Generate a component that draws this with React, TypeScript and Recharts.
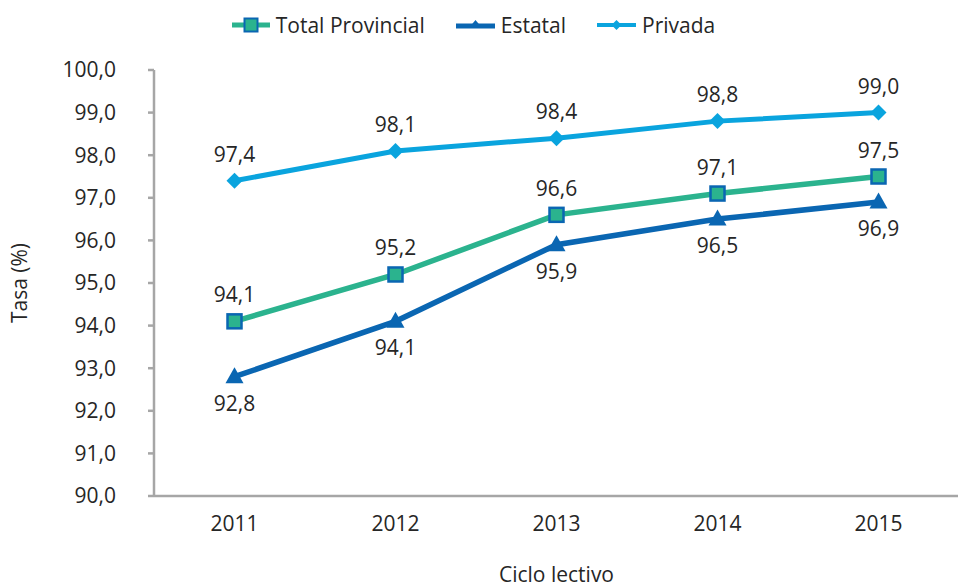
import React from 'react';
import { LineChart, Line, XAxis, YAxis, Legend, LabelList } from 'recharts';

const categories = ['2011', '2012', '2013', '2014', '2015'];
const totalProvincial = [94.1, 95.2, 96.6, 97.1, 97.5];
const estatal = [92.8, 94.1, 95.9, 96.5, 96.9];
const privada = [97.4, 98.1, 98.4, 98.8, 99.0];
const yTicks = [90, 91, 92, 93, 94, 95, 96, 97, 98, 99, 100];
const frameTicks = [0, 1, 2, 3, 4, 5];
const seriesOrder = ['total', 'estatal', 'privada'];
const seriesNames = { total: 'Total Provincial', estatal: 'Estatal', privada: 'Privada' };

const data = categories.map((year, i) => ({
  year,
  total: totalProvincial[i],
  estatal: estatal[i],
  privada: privada[i],
}));

const FONT = '"Open Sans", "Noto Sans", sans-serif';
const TEXT = '#262626';
const AXIS = '#a6a6a6';
const GREEN = '#2bb38e';
const DARK = '#0a66b2';
const LIGHT = '#0aa4de';
const FS = 21;

const fmt = (v: number) => v.toFixed(1).replace('.', ',');

const SquareDot = (props: any) => {
  const { cx, cy, index } = props;
  if (cx == null || cy == null) return null;
  return <rect key={`sq-${index}`} x={cx - 7} y={cy - 7} width={14} height={14} fill={GREEN} stroke={DARK} strokeWidth={2.5} />;
};
const TriangleDot = (props: any) => {
  const { cx, cy, index } = props;
  if (cx == null || cy == null) return null;
  return <polygon key={`tr-${index}`} points={`${cx},${cy - 9.5} ${cx - 9},${cy + 6.5} ${cx + 9},${cy + 6.5}`} fill={DARK} />;
};
const DiamondDot = (props: any) => {
  const { cx, cy, index } = props;
  if (cx == null || cy == null) return null;
  return <polygon key={`di-${index}`} points={`${cx},${cy - 8} ${cx + 8},${cy} ${cx},${cy + 8} ${cx - 8},${cy}`} fill={LIGHT} />;
};

const LegendIcon = ({ dataKey }: { dataKey: string }) => {
  if (dataKey === 'total') {
    return (
      <svg width={38} height={16} style={{ display: 'block' }}>
        <line x1={0} y1={8} x2={38} y2={8} stroke={GREEN} strokeWidth={5} />
        <rect x={12.5} y={1.5} width={13} height={13} fill={GREEN} stroke={DARK} strokeWidth={2} />
      </svg>
    );
  }
  if (dataKey === 'estatal') {
    return (
      <svg width={39} height={16} style={{ display: 'block' }}>
        <line x1={0} y1={9} x2={39} y2={9} stroke={DARK} strokeWidth={5} />
        <polygon points="19.5,3 14.5,9 24.5,9" fill={DARK} />
      </svg>
    );
  }
  return (
    <svg width={39} height={16} style={{ display: 'block' }}>
      <line x1={0} y1={8} x2={39} y2={8} stroke={LIGHT} strokeWidth={4} />
      <polygon points="19.5,3 24.5,8 19.5,13 14.5,8" fill={LIGHT} />
    </svg>
  );
};

const renderLegend = (props: any) => {
  const payload = [...(props.payload || [])].sort(
    (a: any, b: any) => seriesOrder.indexOf(a.dataKey) - seriesOrder.indexOf(b.dataKey)
  );
  return (
    <div style={{ height: 65, width: '100%' }}>
      <div style={{ height: 40, display: 'flex', justifyContent: 'center', alignItems: 'center', paddingRight: 12 }}>
        {payload.map((entry: any, i: number) => (
          <div key={entry.dataKey} style={{ display: 'flex', alignItems: 'center', marginRight: i < payload.length - 1 ? 31 : 0 }}>
            <LegendIcon dataKey={entry.dataKey} />
            <span style={{ marginLeft: 6, fontFamily: FONT, fontSize: FS, color: TEXT, lineHeight: '40px' }}>{entry.value}</span>
          </div>
        ))}
      </div>
    </div>
  );
};

const YLabel = (props: any) => {
  const { viewBox } = props;
  const cx = viewBox.x + 19;
  const cy = viewBox.y + viewBox.height / 2;
  return (
    <text x={cx} y={cy} transform={`rotate(-90, ${cx}, ${cy})`} textAnchor="middle" dominantBaseline="central" fontFamily={FONT} fontSize={FS} fill={TEXT}>
      Tasa (%)
    </text>
  );
};

export default function App() {
  return (
    <div style={{ position: 'fixed', left: 0, top: 0, width: 958, height: 587, background: '#fff' }}>
      <LineChart width={958} height={587} data={data} margin={{ top: 5, right: -1, bottom: 0, left: 0 }}>
        <Legend verticalAlign="top" align="center" content={renderLegend} />
        <XAxis
          xAxisId="a"
          type="number"
          domain={[0, 5]}
          ticks={frameTicks}
          tick={false}
          height={1}
          tickSize={6}
          axisLine={{ stroke: AXIS, strokeWidth: 2.5 }}
          tickLine={{ stroke: AXIS, strokeWidth: 2.5 }}
        />
        <XAxis
          xAxisId="b"
          dataKey="year"
          padding={{ left: 80.5, right: 80.5 }}
          axisLine={false}
          tickLine={false}
          height={90}
          tickMargin={13}
          tick={{ fontFamily: FONT, fontSize: FS, fill: TEXT }}
          label={{ value: 'Ciclo lectivo', position: 'insideBottom', offset: 5, fontFamily: FONT, fontSize: FS, fill: TEXT }}
        />
        <YAxis
          width={154}
          domain={[90, 100]}
          ticks={yTicks}
          interval={0}
          tickFormatter={fmt}
          tickSize={6}
          tickMargin={32}
          axisLine={{ stroke: AXIS, strokeWidth: 2.5 }}
          tickLine={{ stroke: AXIS, strokeWidth: 2.5 }}
          tick={{ fontFamily: FONT, fontSize: FS, fill: TEXT }}
          label={<YLabel />}
        />
        <Line xAxisId="b" dataKey="total" name={seriesNames.total} stroke={GREEN} strokeWidth={5.5} dot={SquareDot} activeDot={false} isAnimationActive={false}>
          <LabelList dataKey="total" position="top" offset={19} formatter={(v: any) => fmt(Number(v))} fontFamily={FONT} fontSize={FS} fill={TEXT} />
        </Line>
        <Line xAxisId="b" dataKey="estatal" name={seriesNames.estatal} stroke={DARK} strokeWidth={5.5} dot={TriangleDot} activeDot={false} isAnimationActive={false}>
          <LabelList dataKey="estatal" position="bottom" offset={19} formatter={(v: any) => fmt(Number(v))} fontFamily={FONT} fontSize={FS} fill={TEXT} />
        </Line>
        <Line xAxisId="b" dataKey="privada" name={seriesNames.privada} stroke={LIGHT} strokeWidth={5} dot={DiamondDot} activeDot={false} isAnimationActive={false}>
          <LabelList dataKey="privada" position="top" offset={19} formatter={(v: any) => fmt(Number(v))} fontFamily={FONT} fontSize={FS} fill={TEXT} />
        </Line>
      </LineChart>
    </div>
  );
}
